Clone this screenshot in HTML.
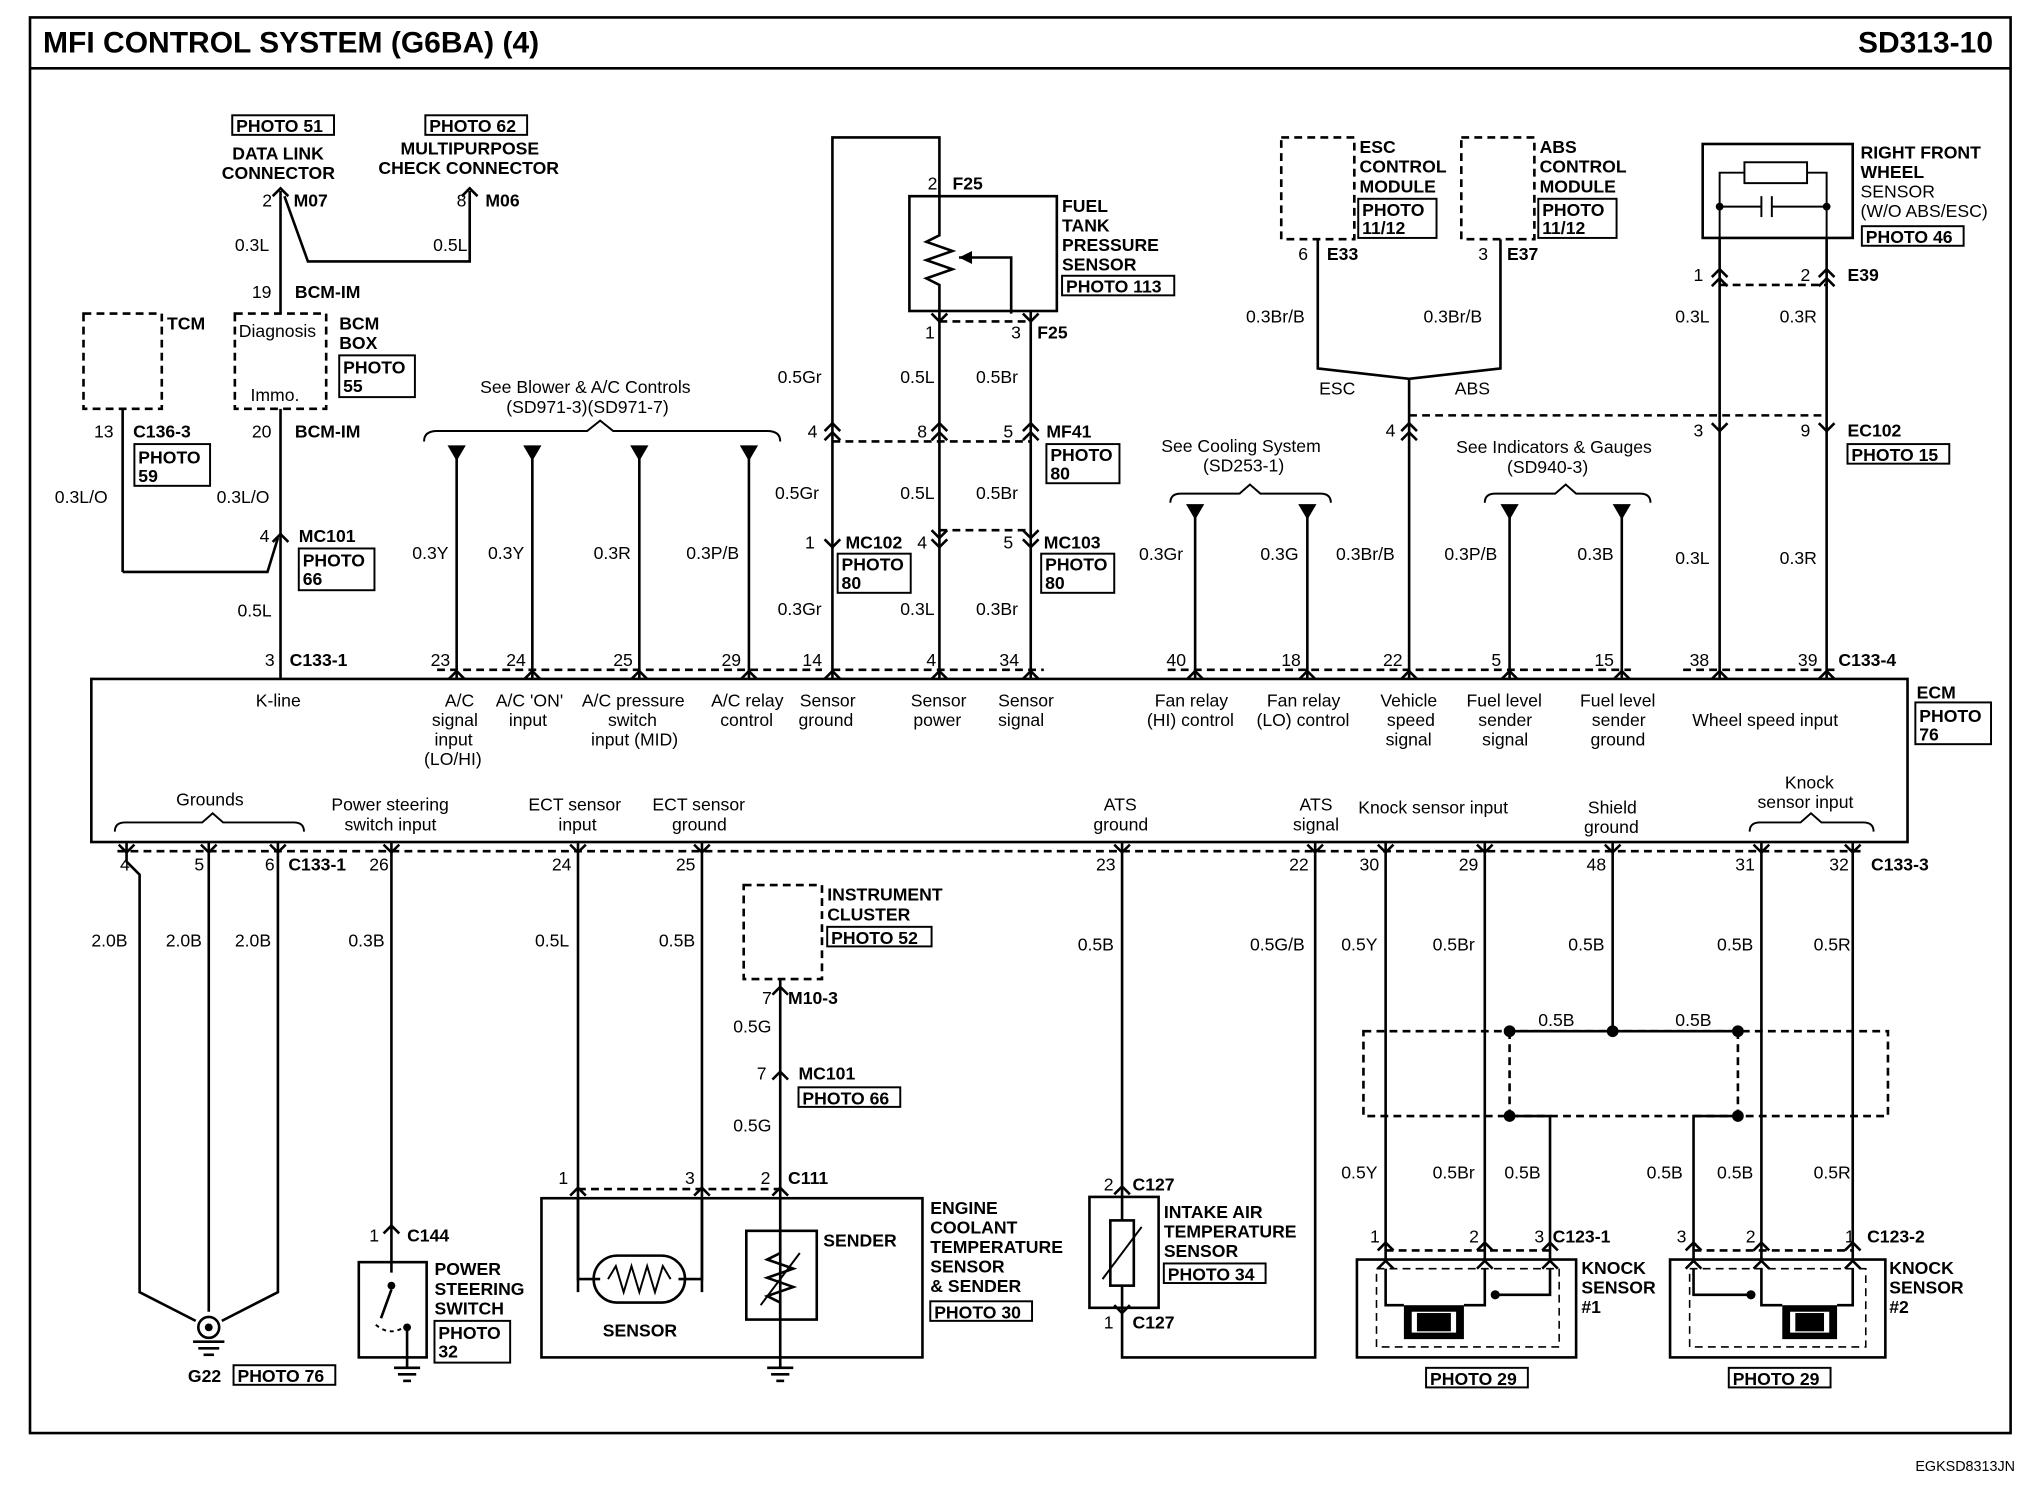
<!DOCTYPE html>
<html><head><meta charset="utf-8"><style>
html,body{margin:0;padding:0;background:#fff}
svg{display:block}
text{font-family:"Liberation Sans",Arial,sans-serif;font-size:13.5px;fill:#000}
.b{font-weight:bold}
.w{stroke:#000;stroke-width:2;fill:none}
.d{stroke:#000;stroke-width:2;fill:none;stroke-dasharray:6 4}
.t{stroke:#000;stroke-width:1.5;fill:none}
.bx{stroke:#000;stroke-width:1.5;fill:#fff}
</style></head><body>
<svg width="2038" height="1504" viewBox="0 0 1562 1152" xmlns="http://www.w3.org/2000/svg">
<rect x="0" y="0" width="1562" height="1152" fill="#fff"/>
<!-- frame -->
<rect x="23" y="13" width="1518" height="1085" class="w"/>
<line x1="23" y1="52" x2="1541" y2="52" class="w"/>
<text x="33" y="40" class="b" style="font-size:23px">MFI CONTROL SYSTEM (G6BA) (4)</text>
<text x="1424" y="40" class="b" style="font-size:23px">SD313-10</text>
<text x="1468" y="1127" style="font-size:11px">EGKSD8313JN</text>

<!-- ECM box -->
<rect x="70" y="520" width="1392" height="125" class="w"/>
<text x="1469" y="535" class="b">ECM</text>
<rect x="1468" y="538" width="58" height="32" class="t"/><text x="1471" y="553" class="b">PHOTO</text><text x="1471" y="567" class="b">76</text>

<!-- top left: data link -->
<rect x="178" y="88" width="78" height="15" class="t"/><text x="181" y="101" class="b">PHOTO 51</text>
<text x="178" y="122" class="b">DATA LINK</text><text x="170" y="137" class="b">CONNECTOR</text>
<rect x="326" y="88" width="78" height="15" class="t"/><text x="329" y="101" class="b">PHOTO 62</text>
<text x="307" y="118" class="b">MULTIPURPOSE</text><text x="290" y="133" class="b">CHECK CONNECTOR</text>
<polyline points="209,150 215,144 221,150" class="w"/><text x="201" y="158">2</text><text x="225" y="158" class="b">M07</text>
<polyline points="354,150 360,144 366,150" class="w"/><text x="350" y="158">8</text><text x="372" y="158" class="b">M06</text>
<line x1="215" y1="146" x2="215" y2="215" class="w"/>
<polyline points="218,150 236,200 360,200 360,146" class="w"/>
<text x="180" y="192">0.3L</text><text x="332" y="192">0.5L</text>
<text x="193" y="228">19</text><text x="226" y="228" class="b">BCM-IM</text>
<rect x="180" y="240" width="70" height="73" class="d"/>
<text x="183" y="258">Diagnosis</text><text x="192" y="307">Immo.</text>
<line x1="215" y1="215" x2="215" y2="240" class="w"/>
<text x="260" y="252" class="b">BCM</text><text x="260" y="267" class="b">BOX</text>
<rect x="260" y="272" width="58" height="32" class="t"/><text x="263" y="286" class="b">PHOTO</text><text x="263" y="300" class="b">55</text>
<rect x="64" y="240" width="60" height="73" class="d"/>
<text x="128" y="252" class="b">TCM</text>
<line x1="94" y1="313" x2="94" y2="438" class="w"/>
<polyline points="94,438 205,438 213,412" class="w"/>
<text x="72" y="335">13</text><text x="102" y="335" class="b">C136-3</text>
<rect x="103" y="340" width="58" height="32" class="t"/><text x="106" y="355" class="b">PHOTO</text><text x="106" y="369" class="b">59</text>
<text x="42" y="385">0.3L/O</text><text x="166" y="385">0.3L/O</text>
<line x1="215" y1="313" x2="215" y2="520" class="w"/>
<text x="193" y="335">20</text><text x="226" y="335" class="b">BCM-IM</text>
<polyline points="209,415 215,409 221,415" class="w"/><text x="199" y="415">4</text><text x="229" y="415" class="b">MC101</text>
<rect x="229" y="420" width="58" height="32" class="t"/><text x="232" y="434" class="b">PHOTO</text><text x="232" y="448" class="b">66</text>
<text x="182" y="472">0.5L</text>
<text x="203" y="510">3</text><text x="222" y="510" class="b">C133-1</text>
<text x="196" y="541">K-line</text>

<!-- A/C -->
<text x="368" y="301">See Blower &amp; A/C Controls</text>
<text x="388" y="316">(SD971-3)(SD971-7)</text>
<path d="M325,338 Q325,330 335,330 L450,330 L460,322 L470,330 L588,330 Q598,330 598,338" class="t"/>
<g class="w">
<line x1="350" y1="345" x2="350" y2="520"/><line x1="408" y1="345" x2="408" y2="520"/>
<line x1="490" y1="345" x2="490" y2="520"/><line x1="574" y1="345" x2="574" y2="520"/>
</g>
<g fill="#000"><polygon points="343,341 357,341 350,353"/><polygon points="401,341 415,341 408,353"/><polygon points="483,341 497,341 490,353"/><polygon points="567,341 581,341 574,353"/></g>
<text x="316" y="428">0.3Y</text><text x="374" y="428">0.3Y</text><text x="455" y="428">0.3R</text><text x="526" y="428">0.3P/B</text>
<text x="330" y="510">23</text><text x="388" y="510">24</text><text x="470" y="510">25</text><text x="553" y="510">29</text>
<line x1="335" y1="513" x2="630" y2="513" class="d"/>
<g style="font-size:13px">
<text x="341" y="541">A/C</text><text x="331" y="556">signal</text><text x="333" y="571">input</text><text x="325" y="586">(LO/HI)</text>
<text x="380" y="541">A/C 'ON'</text><text x="390" y="556">input</text>
<text x="446" y="541">A/C pressure</text><text x="466" y="556">switch</text><text x="453" y="571">input (MID)</text>
<text x="545" y="541">A/C relay</text><text x="552" y="556">control</text>
<text x="613" y="541">Sensor</text><text x="612" y="556">ground</text>
<text x="698" y="541">Sensor</text><text x="700" y="556">power</text>
<text x="765" y="541">Sensor</text><text x="765" y="556">signal</text>
</g>

<!-- fuel tank sensor -->
<polyline points="638,520 638,105 720,105 720,150" class="w"/>
<rect x="697" y="150" width="113" height="88" class="w"/>
<text x="711" y="145">2</text><text x="730" y="145" class="b">F25</text>
<path d="M720,150 L720,180 L710,185 L730,192 L710,199 L730,206 L710,213 L720,218 L720,238" class="w"/>
<polyline points="735,197 775,197 775,240" class="w"/><polygon points="735,197 745,192 745,202" fill="#000"/>
<text x="814" y="162" class="b">FUEL</text><text x="814" y="177" class="b">TANK</text><text x="814" y="192" class="b">PRESSURE</text><text x="814" y="207" class="b">SENSOR</text>
<rect x="814" y="211" width="86" height="15" class="t"/><text x="817" y="224" class="b">PHOTO 113</text>
<line x1="720" y1="246" x2="790" y2="246" class="d"/>
<polyline points="714,240 720,246 726,240" class="w"/><polyline points="784,240 790,246 796,240" class="w"/>
<text x="709" y="259">1</text><text x="775" y="259">3</text><text x="795" y="259" class="b">F25</text>
<line x1="720" y1="238" x2="720" y2="520" class="w"/><line x1="790" y1="238" x2="790" y2="520" class="w"/>
<text x="596" y="293">0.5Gr</text><text x="690" y="293">0.5L</text><text x="748" y="293">0.5Br</text>
<g class="w">
<polyline points="632,330 638,324 644,330"/><polyline points="632,337 638,331 644,337"/>
<polyline points="714,330 720,324 726,330"/><polyline points="714,337 720,331 726,337"/>
<polyline points="784,330 790,324 796,330"/><polyline points="784,337 790,331 796,337"/>
<polyline points="632,413 638,419 644,413"/><polyline points="714,413 720,419 726,413"/><polyline points="784,413 790,419 796,413"/>
<polyline points="714,406 720,412 726,406"/><polyline points="784,406 790,412 796,406"/>
</g>
<line x1="638" y1="338" x2="790" y2="338" class="d"/><line x1="720" y1="406" x2="790" y2="406" class="d"/>
<text x="619" y="335">4</text><text x="703" y="335">8</text><text x="769" y="335">5</text><text x="802" y="335" class="b">MF41</text>
<rect x="802" y="340" width="56" height="30" class="t"/><text x="805" y="353" class="b">PHOTO</text><text x="805" y="367" class="b">80</text>
<text x="594" y="382">0.5Gr</text><text x="690" y="382">0.5L</text><text x="748" y="382">0.5Br</text>
<text x="617" y="420">1</text><text x="648" y="420" class="b">MC102</text><text x="703" y="420">4</text><text x="769" y="420">5</text><text x="800" y="420" class="b">MC103</text>
<rect x="642" y="424" width="56" height="30" class="t"/><text x="645" y="437" class="b">PHOTO</text><text x="645" y="451" class="b">80</text>
<rect x="798" y="424" width="56" height="30" class="t"/><text x="801" y="437" class="b">PHOTO</text><text x="801" y="451" class="b">80</text>
<text x="596" y="471">0.3Gr</text><text x="690" y="471">0.3L</text><text x="748" y="471">0.3Br</text>
<text x="615" y="510">14</text><text x="710" y="510">4</text><text x="766" y="510">34</text>
<line x1="638" y1="513" x2="800" y2="513" class="d"/>

<!-- cooling -->
<text x="890" y="346">See Cooling System</text><text x="922" y="361">(SD253-1)</text>
<path d="M897,385 Q897,378 905,378 L950,378 L958,371 L966,378 L1012,378 Q1020,378 1020,385" class="t"/>
<line x1="916" y1="390" x2="916" y2="520" class="w"/><line x1="1002" y1="390" x2="1002" y2="520" class="w"/>
<polygon points="909,386 923,386 916,398" fill="#000"/><polygon points="995,386 1009,386 1002,398" fill="#000"/>
<text x="873" y="429">0.3Gr</text><text x="966" y="429">0.3G</text>
<text x="894" y="510">40</text><text x="982" y="510">18</text>
<line x1="895" y1="513" x2="1250" y2="513" class="d"/>
<g style="font-size:13px">
<text x="885" y="541">Fan relay</text><text x="879" y="556">(HI) control</text>
<text x="971" y="541">Fan relay</text><text x="963" y="556">(LO) control</text>
<text x="1058" y="541">Vehicle</text><text x="1063" y="556">speed</text><text x="1062" y="571">signal</text>
<text x="1124" y="541">Fuel level</text><text x="1133" y="556">sender</text><text x="1136" y="571">signal</text>
<text x="1211" y="541">Fuel level</text><text x="1220" y="556">sender</text><text x="1219" y="571">ground</text>
<text x="1297" y="556">Wheel speed input</text>
</g>

<!-- ESC / ABS -->
<rect x="982" y="105" width="56" height="78" class="d"/><rect x="1120" y="105" width="56" height="78" class="d"/>
<text x="1042" y="117" class="b">ESC</text><text x="1042" y="132" class="b">CONTROL</text><text x="1042" y="147" class="b">MODULE</text>
<rect x="1041" y="152" width="60" height="30" class="t"/><text x="1044" y="165" class="b">PHOTO</text><text x="1044" y="179" class="b">11/12</text>
<text x="1180" y="117" class="b">ABS</text><text x="1180" y="132" class="b">CONTROL</text><text x="1180" y="147" class="b">MODULE</text>
<rect x="1179" y="152" width="60" height="30" class="t"/><text x="1182" y="165" class="b">PHOTO</text><text x="1182" y="179" class="b">11/12</text>
<text x="995" y="199">6</text><text x="1017" y="199" class="b">E33</text><text x="1133" y="199">3</text><text x="1155" y="199" class="b">E37</text>
<polyline points="1010,183 1010,282 1080,290 1150,282 1150,183" class="w"/>
<line x1="1080" y1="290" x2="1080" y2="520" class="w"/>
<text x="955" y="247">0.3Br/B</text><text x="1091" y="247">0.3Br/B</text>
<text x="1011" y="302">ESC</text><text x="1115" y="302">ABS</text>
<polyline points="1074,330 1080,324 1086,330" class="w"/><polyline points="1074,337 1080,331 1086,337" class="w"/>
<text x="1062" y="334">4</text>
<line x1="1080" y1="318" x2="1400" y2="318" class="d"/>
<text x="1024" y="429">0.3Br/B</text><text x="1060" y="510">22</text>

<!-- indicators -->
<text x="1116" y="347">See Indicators &amp; Gauges</text><text x="1155" y="362">(SD940-3)</text>
<path d="M1138,385 Q1138,378 1146,378 L1192,378 L1200,371 L1208,378 L1257,378 Q1265,378 1265,385" class="t"/>
<line x1="1157" y1="390" x2="1157" y2="520" class="w"/><line x1="1243" y1="390" x2="1243" y2="520" class="w"/>
<polygon points="1150,386 1164,386 1157,398" fill="#000"/><polygon points="1236,386 1250,386 1243,398" fill="#000"/>
<text x="1107" y="429">0.3P/B</text><text x="1209" y="429">0.3B</text>
<text x="1143" y="510">5</text><text x="1222" y="510">15</text>

<!-- wheel sensor -->
<rect x="1305" y="110" width="115" height="72" class="w"/>
<rect x="1337" y="124" width="48" height="16" class="t"/>
<polyline points="1318,182 1318,158 1350,158" class="t"/><line x1="1350" y1="150" x2="1350" y2="166" class="t"/><line x1="1358" y1="150" x2="1358" y2="166" class="t"/>
<polyline points="1358,158 1400,158 1400,182" class="t"/>
<polyline points="1318,158 1318,132 1337,132" class="t"/><polyline points="1385,132 1400,132 1400,158" class="t"/>
<circle cx="1318" cy="158" r="3" fill="#000"/><circle cx="1400" cy="158" r="3" fill="#000"/>
<text x="1426" y="121" class="b">RIGHT FRONT</text><text x="1426" y="136" class="b">WHEEL</text><text x="1426" y="151">SENSOR</text><text x="1426" y="166">(W/O ABS/ESC)</text>
<rect x="1427" y="173" width="78" height="15" class="t"/><text x="1430" y="186" class="b">PHOTO 46</text>
<line x1="1318" y1="182" x2="1318" y2="520" class="w"/><line x1="1400" y1="182" x2="1400" y2="520" class="w"/>
<g class="w"><polyline points="1312,212 1318,206 1324,212"/><polyline points="1312,219 1318,213 1324,219"/><polyline points="1394,212 1400,206 1406,212"/><polyline points="1394,219 1400,213 1406,219"/>
<polyline points="1312,324 1318,330 1324,324"/><polyline points="1394,324 1400,330 1406,324"/></g>
<line x1="1318" y1="218" x2="1400" y2="218" class="d"/>
<text x="1298" y="215">1</text><text x="1380" y="215">2</text><text x="1416" y="215" class="b">E39</text>
<text x="1284" y="247">0.3L</text><text x="1364" y="247">0.3R</text>
<text x="1298" y="334">3</text><text x="1380" y="334">9</text><text x="1416" y="334" class="b">EC102</text>
<rect x="1416" y="340" width="78" height="15" class="t"/><text x="1419" y="353" class="b">PHOTO 15</text>
<text x="1284" y="432">0.3L</text><text x="1364" y="432">0.3R</text>
<text x="1295" y="510">38</text><text x="1378" y="510">39</text><text x="1409" y="510" class="b">C133-4</text>
<line x1="1290" y1="513" x2="1410" y2="513" class="d"/>

<!-- top connector chevrons at ECM -->
<g class="w">
<polyline points="344,520 350,514 356,520"/><polyline points="402,520 408,514 414,520"/><polyline points="484,520 490,514 496,520"/><polyline points="568,520 574,514 580,520"/>
<polyline points="632,520 638,514 644,520"/><polyline points="714,520 720,514 726,520"/><polyline points="784,520 790,514 796,520"/>
<polyline points="910,520 916,514 922,520"/><polyline points="996,520 1002,514 1008,520"/><polyline points="1074,520 1080,514 1086,520"/>
<polyline points="1151,520 1157,514 1163,520"/><polyline points="1237,520 1243,514 1249,520"/><polyline points="1312,520 1318,514 1324,520"/><polyline points="1394,520 1400,514 1406,520"/>
</g>

<!-- ECM lower labels -->
<g style="font-size:13px">
<path d="M88,637 Q88,630 96,630 L155,630 L163,623 L171,630 L225,630 Q233,630 233,637" class="t"/>
<text x="135" y="617">Grounds</text>
<text x="254" y="621">Power steering</text><text x="264" y="636">switch input</text>
<text x="405" y="621">ECT sensor</text><text x="428" y="636">input</text>
<text x="500" y="621">ECT sensor</text><text x="515" y="636">ground</text>
<text x="846" y="621">ATS</text><text x="838" y="636">ground</text>
<text x="996" y="621">ATS</text><text x="991" y="636">signal</text>
<text x="1041" y="623">Knock sensor input</text>
<text x="1217" y="623">Shield</text><text x="1214" y="638">ground</text>
<text x="1368" y="604">Knock</text><text x="1347" y="619">sensor input</text>
<path d="M1341,637 Q1341,630 1349,630 L1380,630 L1388,623 L1396,630 L1428,630 Q1436,630 1436,637" class="t"/>
</g>

<!-- bottom chevrons -->
<g class="w">
<polyline points="91,647 97,653 103,647"/><polyline points="154,647 160,653 166,647"/><polyline points="207,647 213,653 219,647"/><polyline points="294,647 300,653 306,647"/>
<polyline points="437,647 443,653 449,647"/><polyline points="532,647 538,653 544,647"/><polyline points="854,647 860,653 866,647"/><polyline points="1002,647 1008,653 1014,647"/>
<polyline points="1056,647 1062,653 1068,647"/><polyline points="1132,647 1138,653 1144,647"/><polyline points="1230,647 1236,653 1242,647"/><polyline points="1344,647 1350,653 1356,647"/><polyline points="1414,647 1420,653 1426,647"/>
</g>
<line x1="90" y1="652" x2="1430" y2="652" class="d"/>
<text x="92" y="667">4</text><text x="149" y="667">5</text><text x="203" y="667">6</text><text x="221" y="667" class="b">C133-1</text><text x="283" y="667">26</text>
<text x="423" y="667">24</text><text x="518" y="667">25</text><text x="840" y="667">23</text><text x="988" y="667">22</text>
<text x="1042" y="667">30</text><text x="1118" y="667">29</text><text x="1216" y="667">48</text><text x="1330" y="667">31</text><text x="1402" y="667">32</text><text x="1434" y="667" class="b">C133-3</text>

<!-- grounds -->
<g class="w">
<polyline points="97,645 97,660 107,670 107,990 150,1012"/>
<line x1="160" y1="645" x2="160" y2="1005"/>
<polyline points="213,645 213,990 170,1012"/>
</g>
<circle cx="160" cy="1017" r="8" class="w"/><circle cx="160" cy="1017" r="3" fill="#000"/>
<line x1="148" y1="1028" x2="172" y2="1028" class="w"/><line x1="152" y1="1033" x2="168" y2="1033" class="w"/><line x1="156" y1="1038" x2="164" y2="1038" class="w"/>
<text x="70" y="725">2.0B</text><text x="127" y="725">2.0B</text><text x="180" y="725">2.0B</text>
<text x="144" y="1059" class="b">G22</text><rect x="179" y="1046" width="78" height="15" class="t"/><text x="182" y="1059" class="b">PHOTO 76</text>

<!-- power steering -->
<line x1="300" y1="645" x2="300" y2="975" class="w"/>
<text x="267" y="725">0.3B</text>
<polyline points="294,945 300,939 306,945" class="w"/><text x="283" y="951">1</text><text x="312" y="951" class="b">C144</text>
<rect x="275" y="967" width="52" height="73" class="w"/>
<circle cx="300" cy="985" r="3" fill="#000"/><line x1="300" y1="988" x2="292" y2="1010" class="w"/>
<path d="M288,1015 Q300,1025 312,1015" class="t" stroke-dasharray="3 3"/>
<circle cx="312" cy="1017" r="3" fill="#000"/>
<line x1="312" y1="1017" x2="312" y2="1040" class="w"/>
<line x1="312" y1="1040" x2="312" y2="1048" class="w"/>
<line x1="302" y1="1048" x2="322" y2="1048" class="w"/><line x1="305" y1="1053" x2="319" y2="1053" class="w"/><line x1="309" y1="1058" x2="315" y2="1058" class="w"/>
<text x="333" y="977" class="b">POWER</text><text x="333" y="992" class="b">STEERING</text><text x="333" y="1007" class="b">SWITCH</text>
<rect x="333" y="1012" width="58" height="32" class="t"/><text x="336" y="1026" class="b">PHOTO</text><text x="336" y="1040" class="b">32</text>

<!-- ECT -->
<line x1="443" y1="645" x2="443" y2="990" class="w"/><line x1="538" y1="645" x2="538" y2="990" class="w"/>
<text x="410" y="725">0.5L</text><text x="505" y="725">0.5B</text>
<rect x="570" y="678" width="60" height="72" class="d"/>
<text x="634" y="690" class="b">INSTRUMENT</text><text x="634" y="705" class="b">CLUSTER</text>
<rect x="634" y="710" width="80" height="15" class="t"/><text x="637" y="723" class="b">PHOTO 52</text>
<line x1="598" y1="750" x2="598" y2="1040" class="w"/>
<text x="584" y="769">7</text><text x="604" y="769" class="b">M10-3</text>
<polyline points="592,762 598,756 604,762" class="w"/>
<text x="562" y="791">0.5G</text>
<polyline points="592,827 598,821 604,827" class="w"/><text x="580" y="827">7</text><text x="612" y="827" class="b">MC101</text>
<rect x="612" y="833" width="78" height="15" class="t"/><text x="615" y="846" class="b">PHOTO 66</text>
<text x="562" y="867">0.5G</text>
<g class="w"><polyline points="437,916 443,910 449,916"/><polyline points="532,916 538,910 544,916"/><polyline points="592,916 598,910 604,916"/></g>
<line x1="443" y1="911" x2="598" y2="911" class="d"/>
<text x="428" y="907">1</text><text x="525" y="907">3</text><text x="583" y="907">2</text><text x="604" y="907" class="b">C111</text>
<rect x="415" y="918" width="292" height="122" class="w"/>
<polyline points="443,918 443,980 460,980" class="w"/><polyline points="520,980 538,980 538,918" class="w"/>
<rect x="455" y="962" width="70" height="36" rx="18" class="w"/>
<polyline points="466,980 472,970 478,990 484,970 490,990 496,970 502,990 508,970 514,980" class="t"/>
<text x="462" y="1024" class="b">SENSOR</text>
<rect x="572" y="943" width="54" height="68" class="w"/>
<polyline points="598,943 598,960 588,965 608,972 588,979 608,986 588,993 598,998 598,1011" class="w"/>
<line x1="583" y1="1000" x2="613" y2="960" class="t"/>
<text x="631" y="955" class="b">SENDER</text>
<line x1="598" y1="1040" x2="598" y2="1048" class="w"/>
<line x1="588" y1="1048" x2="608" y2="1048" class="w"/><line x1="591" y1="1053" x2="605" y2="1053" class="w"/><line x1="595" y1="1058" x2="601" y2="1058" class="w"/>
<text x="713" y="930" class="b">ENGINE</text><text x="713" y="945" class="b">COOLANT</text><text x="713" y="960" class="b">TEMPERATURE</text><text x="713" y="975" class="b">SENSOR</text><text x="713" y="990" class="b">&amp; SENDER</text>
<rect x="713" y="997" width="78" height="15" class="t"/><text x="716" y="1010" class="b">PHOTO 30</text>

<!-- ATS -->
<line x1="860" y1="645" x2="860" y2="917" class="w"/>
<polyline points="860,1002 860,1040 1008,1040 1008,645" class="w"/>
<text x="826" y="728">0.5B</text><text x="958" y="728">0.5G/B</text>
<polyline points="854,915 860,909 866,915" class="w"/><text x="846" y="912">2</text><text x="868" y="912" class="b">C127</text>
<rect x="835" y="917" width="53" height="85" class="w"/>
<rect x="851" y="935" width="18" height="50" class="w"/><line x1="845" y1="980" x2="875" y2="940" class="t"/>
<line x1="860" y1="917" x2="860" y2="935" class="w"/><line x1="860" y1="985" x2="860" y2="1002" class="w"/>
<polyline points="854,1000 860,1006 866,1000" class="w"/><text x="846" y="1018">1</text><text x="868" y="1018" class="b">C127</text>
<text x="892" y="933" class="b">INTAKE AIR</text><text x="892" y="948" class="b">TEMPERATURE</text><text x="892" y="963" class="b">SENSOR</text>
<rect x="892" y="968" width="78" height="15" class="t"/><text x="895" y="981" class="b">PHOTO 34</text>

<!-- knock -->
<g class="w">
<line x1="1062" y1="645" x2="1062" y2="965"/><line x1="1138" y1="645" x2="1138" y2="965"/>
<line x1="1236" y1="645" x2="1236" y2="790"/>
<line x1="1157" y1="790" x2="1332" y2="790"/>
<polyline points="1157,855 1188,855 1188,965"/><polyline points="1332,855 1298,855 1298,965"/>
<line x1="1350" y1="645" x2="1350" y2="965"/><line x1="1420" y1="645" x2="1420" y2="965"/>
</g>
<line x1="1157" y1="790" x2="1157" y2="855" class="d"/><line x1="1332" y1="790" x2="1332" y2="855" class="d"/>
<rect x="1045" y="790" width="402" height="65" class="d"/>
<g fill="#000"><circle cx="1157" cy="790" r="4.5"/><circle cx="1236" cy="790" r="4.5"/><circle cx="1332" cy="790" r="4.5"/><circle cx="1157" cy="855" r="4.5"/><circle cx="1332" cy="855" r="4.5"/></g>
<text x="1028" y="728">0.5Y</text><text x="1098" y="728">0.5Br</text><text x="1202" y="728">0.5B</text><text x="1316" y="728">0.5B</text><text x="1390" y="728">0.5R</text>
<text x="1179" y="786">0.5B</text><text x="1284" y="786">0.5B</text>
<text x="1028" y="903">0.5Y</text><text x="1098" y="903">0.5Br</text><text x="1153" y="903">0.5B</text>
<text x="1262" y="903">0.5B</text><text x="1316" y="903">0.5B</text><text x="1390" y="903">0.5R</text>
<g class="w">
<polyline points="1056,958 1062,952 1068,958"/><polyline points="1132,958 1138,952 1144,958"/><polyline points="1182,958 1188,952 1194,958"/>
<polyline points="1292,958 1298,952 1304,958"/><polyline points="1344,958 1350,952 1356,958"/><polyline points="1414,958 1420,952 1426,958"/>
</g>
<line x1="1062" y1="958" x2="1188" y2="958" class="d"/><line x1="1298" y1="958" x2="1420" y2="958" class="d"/>
<text x="1050" y="952">1</text><text x="1126" y="952">2</text><text x="1176" y="952">3</text><text x="1190" y="952" class="b">C123-1</text>
<text x="1285" y="952">3</text><text x="1338" y="952">2</text><text x="1414" y="952">1</text><text x="1431" y="952" class="b">C123-2</text>
<rect x="1040" y="965" width="168" height="75" class="w"/>
<rect x="1280" y="965" width="165" height="75" class="w"/>
<rect x="1055" y="972" width="140" height="60" class="d" style="stroke-width:1.2"/>
<rect x="1295" y="972" width="135" height="60" class="d" style="stroke-width:1.2"/>
<g class="w">
<polyline points="1056,972 1062,966 1068,972"/><polyline points="1132,972 1138,966 1144,972"/><polyline points="1182,972 1188,966 1194,972"/>
<polyline points="1292,972 1298,966 1304,972"/><polyline points="1344,972 1350,966 1356,972"/><polyline points="1414,972 1420,966 1426,972"/>
<polyline points="1062,972 1062,1000 1076,1000"/><polyline points="1138,972 1138,1000 1122,1000"/><polyline points="1188,972 1188,992 1146,992"/>
<polyline points="1298,972 1298,992 1342,992"/><polyline points="1350,972 1350,1000 1366,1000"/><polyline points="1420,972 1420,1000 1408,1000"/>
</g>
<circle cx="1146" cy="992" r="3.5" fill="#000"/><circle cx="1342" cy="992" r="3.5" fill="#000"/>
<rect x="1076" y="1000" width="46" height="26" fill="#000"/><rect x="1082" y="1005" width="34" height="16" fill="#fff"/><rect x="1086" y="1006" width="26" height="14" fill="#000"/>
<rect x="1366" y="1000" width="42" height="26" fill="#000"/><rect x="1372" y="1005" width="30" height="16" fill="#fff"/><rect x="1376" y="1006" width="22" height="14" fill="#000"/>
<text x="1212" y="976" class="b">KNOCK</text><text x="1212" y="991" class="b">SENSOR</text><text x="1212" y="1006" class="b">#1</text>
<text x="1448" y="976" class="b">KNOCK</text><text x="1448" y="991" class="b">SENSOR</text><text x="1448" y="1006" class="b">#2</text>
<rect x="1093" y="1048" width="78" height="15" class="t"/><text x="1096" y="1061" class="b">PHOTO 29</text>
<rect x="1325" y="1048" width="78" height="15" class="t"/><text x="1328" y="1061" class="b">PHOTO 29</text>
</svg>
</body></html>
